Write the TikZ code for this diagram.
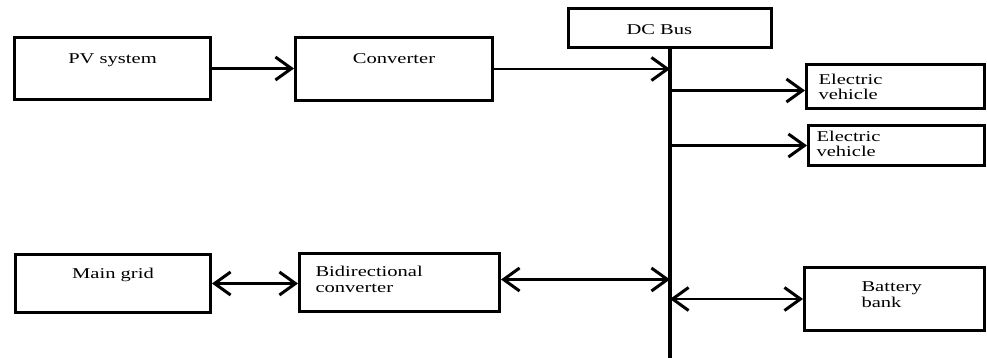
\documentclass[tikz,border=0pt]{standalone}
\usepackage{fontspec}
\setmainfont{Liberation Serif}[FakeStretch=1.37]
\usetikzlibrary{arrows.meta,positioning,calc}

\begin{document}
\begin{tikzpicture}[x=1pt, y=-1pt,
    blk/.style={draw, line width=3pt, inner ysep=0pt, anchor=north west,
      font=\fontsize{15}{15.5}\selectfont},
    lblk/.style={blk, align=left},
    arr/.style={-{Straight Barb[length=16pt, width=23pt, line width=3pt]}, line width=2.2pt},
    darr/.style={{Straight Barb[length=16pt, width=23pt, line width=3pt]}-{Straight Barb[length=16pt, width=23pt, line width=3pt]}, line width=2.2pt},
    bus/.style={line width=3.2pt}
  ]
  \useasboundingbox (0,0) rectangle (987,358);

  % top row
  \node[blk, minimum width=196pt, text height=26pt, text depth=36pt] (pv) at (13,36) {PV system};
  \node[blk, minimum width=197pt, text height=26pt, text depth=37pt] (conv) at (294,36) {Converter};
  \node[lblk, inner xsep=58pt, text width=87pt, text height=26pt, text depth=13pt] (dcbus) at (567,7) {DC Bus};

  % loads
  \node[lblk, inner xsep=12pt, text width=154pt, text height=20pt, text depth=24pt] (ev1) at (805,63) {Electric\\vehicle};
  \node[lblk, inner xsep=8pt, text width=160pt, text height=16pt, text depth=24pt] (ev2) at (807,124) {Electric\\vehicle};

  % bottom row
  \node[blk, minimum width=195pt, text height=24pt, text depth=34pt] (grid) at (14,253) {Main grid};
  \node[lblk, inner xsep=16pt, text width=168pt, text height=23pt, text depth=35pt] (bdc) at (298,252) {Bidirectional\\converter};
  \node[lblk, inner xsep=57pt, text width=66pt, text height=24pt, text depth=39pt] (batt) at (803,266) {Battery\\bank};

  % bus line
  \coordinate (busend) at (dcbus.south |- 0,358);
  \draw[bus] (dcbus.south) -- (busend);

  % connectors
  \draw[arr] (pv.east) -- (pv.east -| conv.west);
  \draw[arr] (conv.east) -- (conv.east -| dcbus.south);
  \draw[arr] ([yshift=-4pt]ev1.west -| dcbus.south) -- ([yshift=-4pt]ev1.west);
  \draw[arr] (ev2.west -| dcbus.south) -- (ev2.west);
  \draw[darr] (grid.east) -- (grid.east -| bdc.west);
  \draw[darr] ([yshift=3pt]bdc.east) -- ([yshift=3pt]bdc.east -| dcbus.south);
  \draw[darr] (batt.west -| dcbus.south) -- (batt.west);
\end{tikzpicture}
\end{document}
